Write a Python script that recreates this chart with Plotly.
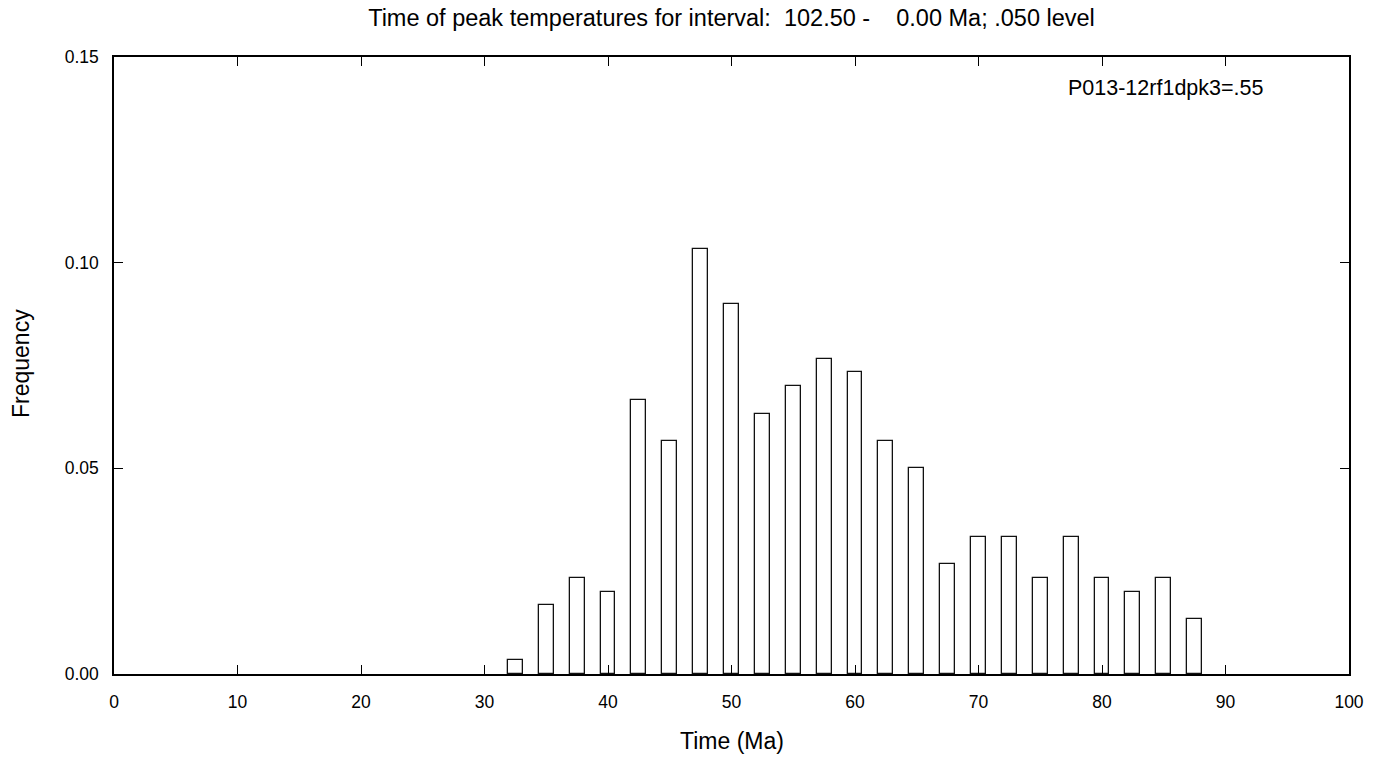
import plotly.graph_objects as go

# Bin centres (Ma) and frequencies
time_ma = [32.5, 35.0, 37.5, 40.0, 42.5, 45.0, 47.5, 50.0, 52.5, 55.0, 57.5, 60.0,
           62.5, 65.0, 67.5, 70.0, 72.5, 75.0, 77.5, 80.0, 82.5, 85.0, 87.5]
frequency = [0.0033, 0.0167, 0.0233, 0.0200, 0.0667, 0.0567, 0.1033, 0.0900, 0.0633,
             0.0700, 0.0767, 0.0733, 0.0567, 0.0500, 0.0267, 0.0333, 0.0333, 0.0233,
             0.0333, 0.0233, 0.0200, 0.0233, 0.0133]
x_ticks = [0, 10, 20, 30, 40, 50, 60, 70, 80, 90, 100]
y_ticks = [0.00, 0.05, 0.10, 0.15]

title_text = "Time of peak temperatures for interval:  102.50 -    0.00 Ma; .050 level"
label_text = "P013-12rf1dpk3=.55"
x_title = "Time (Ma)"
y_title = "Frequency"

FONT = "Arial, 'Liberation Sans', sans-serif"
nb = lambda s: s.replace(" ", "\u00a0")

# plot area in pixels
L, R, T, B = 114, 1349, 57, 674
W, H = 1382, 759
PW, PH = R - L, B - T

fig = go.Figure()
fig.add_trace(go.Bar(
    x=time_ma, y=frequency, width=1.2,
    marker=dict(color="white", line=dict(color="#111111", width=1.3)),
    showlegend=False,
))

fig.update_layout(
    width=W, height=H,
    margin=dict(l=L, r=W - R, t=T, b=H - B),
    paper_bgcolor="white", plot_bgcolor="white",
    font=dict(family=FONT, size=17, color="black"),
    bargap=0,
    title=dict(text=nb(title_text), x=(L + R) / 2 / W, xanchor="center",
               y=1 - 18 / H, yanchor="middle", yref="container",
               font=dict(family=FONT, size=23.5, color="black")),
    xaxis=dict(range=[0, 100], tickvals=x_ticks, ticktext=[str(v) for v in x_ticks],
               ticks="inside", ticklen=9, tickwidth=1, tickcolor="black",
               showline=True, linecolor="black", linewidth=1.5, mirror="ticks",
               showgrid=False, zeroline=False, ticklabelstandoff=11,
               tickfont=dict(family=FONT, size=17.5)),
    yaxis=dict(range=[0, 0.15], tickvals=y_ticks, tickformat=".2f",
               ticks="inside", ticklen=9, tickwidth=1, tickcolor="black",
               showline=True, linecolor="black", linewidth=1.5, mirror="ticks",
               showgrid=False, zeroline=False, ticklabelstandoff=10,
               tickfont=dict(family=FONT, size=17.5)),
    annotations=[
        dict(text=label_text, xref="paper", yref="paper",
             x=(1066 - L) / PW, y=(B - 88) / PH,
             xanchor="left", yanchor="middle", showarrow=False,
             font=dict(family=FONT, size=21.5, color="black")),
        dict(text=x_title, xref="paper", yref="paper",
             x=0.5, y=(B - 741) / PH, xanchor="center", yanchor="middle",
             showarrow=False, font=dict(family=FONT, size=23, color="black")),
        dict(text=y_title, xref="paper", yref="paper", textangle=-90,
             x=(21 - L) / PW, y=(B - 364) / PH, xanchor="center", yanchor="middle",
             showarrow=False, font=dict(family=FONT, size=23, color="black")),
    ],
)

fig.write_html("out.html")
